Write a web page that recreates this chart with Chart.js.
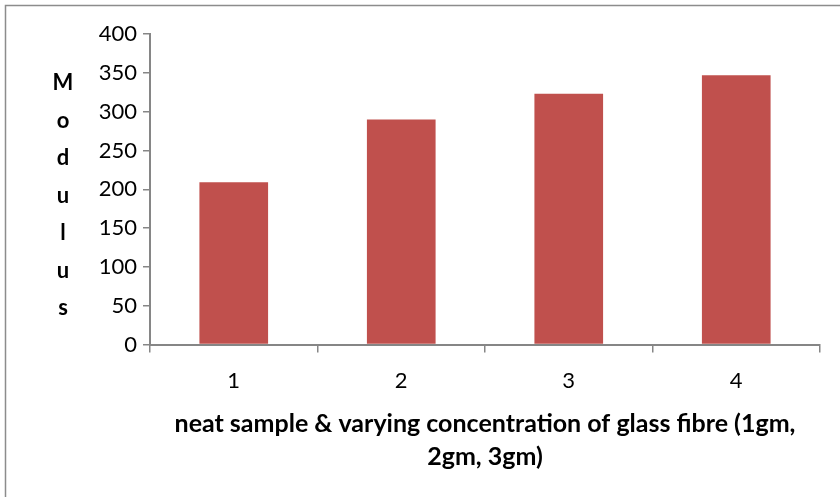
<!DOCTYPE html>
<html>
<head>
<meta charset="utf-8">
<script src="https://cdn.jsdelivr.net/npm/chart.js@4.4.0/dist/chart.umd.min.js"></script>
<style>
    html, body { margin: 0; padding: 0; background: #fff; }
    #wrap { width: 840px; height: 497px; position: relative; }
</style>
</head>
<body>
<div id="wrap"><canvas id="modulusChart" width="840" height="497"></canvas></div>
<script>
    // data
    var categories = ["1", "2", "3", "4"];
    var modulusValues = [209, 290, 323, 347];
    var yTicks = [0, 50, 100, 150, 200, 250, 300, 350, 400];
    var yTitleLetters = ["M", "o", "d", "u", "l", "u", "s"];
    var xTitleLines = ["neat sample & varying concentration of glass fibre (1gm,", "2gm, 3gm)"];

    var axisColor = "#868686";
    var fontFamily = "Lato, 'Open Sans', sans-serif";

    // outer frame + stacked y title
    var framePlugin = {
        id: "frame",
        beforeDraw: function (chart) {
            var ctx = chart.ctx;
            ctx.save();
            ctx.strokeStyle = "#8c8c8c";
            ctx.lineWidth = 1.5;
            ctx.strokeRect(5.5, 5.5, 850, 510);
            ctx.restore();
        },
        afterDraw: function (chart) {
            var ctx = chart.ctx;
            ctx.save();
            ctx.fillStyle = "#000";
            ctx.font = "bold 22px " + fontFamily;
            ctx.textAlign = "center";
            ctx.textBaseline = "middle";
            for (var i = 0; i < yTitleLetters.length; i++) {
                ctx.fillText(yTitleLetters[i], 63, 83 + i * 37.5);
            }
            ctx.restore();
        }
    };

    var canvas = document.getElementById("modulusChart");

    var modulusChart = new Chart(canvas, {
        type: "bar",
        data: {
            labels: categories,
            datasets: [{
                data: modulusValues,
                backgroundColor: "#c0504d",
                borderWidth: 0,
                barPercentage: 0.41,
                categoryPercentage: 1
            }]
        },
        options: {
            responsive: false,
            animation: false,
            layout: {
                padding: { left: 0, top: 34, right: 20, bottom: 0 }
            },
            plugins: {
                legend: { display: false },
                tooltip: { enabled: false }
            },
            scales: {
                x: {
                    grid: {
                        drawOnChartArea: false,
                        offset: true,
                        color: axisColor,
                        tickLength: 8,
                        lineWidth: 1.5
                    },
                    border: { color: axisColor, width: 2 },
                    ticks: {
                        color: "#000",
                        font: { family: fontFamily, size: 22 },
                        padding: 15
                    },
                    title: {
                        display: true,
                        text: xTitleLines,
                        color: "#000",
                        font: { family: fontFamily, size: 25, weight: "bold", lineHeight: 1.32 },
                        padding: { top: 0, bottom: 24 }
                    },
                    afterFit: function (scale) {
                        scale.height = 152.5;
                    }
                },
                y: {
                    min: 0,
                    max: 400,
                    afterBuildTicks: function (scale) {
                        scale.ticks = yTicks.map(function (v) { return { value: v }; });
                    },
                    grid: {
                        drawOnChartArea: false,
                        color: axisColor,
                        tickLength: 7,
                        lineWidth: 1.5
                    },
                    border: { color: axisColor, width: 2 },
                    ticks: {
                        color: "#000",
                        font: { family: fontFamily, size: 22 },
                        padding: 6
                    },
                    afterFit: function (scale) {
                        scale.width = 150;
                    }
                }
            }
        },
        plugins: [framePlugin]
    });
</script>
</body>
</html>
